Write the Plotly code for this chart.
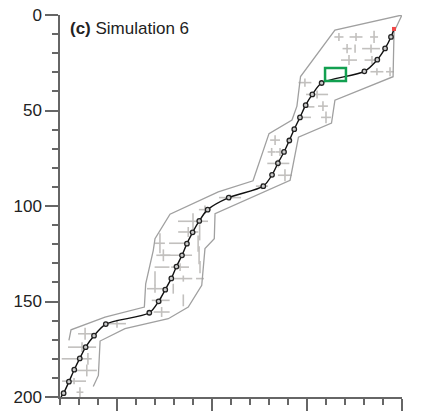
import plotly.graph_objects as go

# Path (black line with markers)
path_x = [-29.5, -28.1, -25.3, -22.5, -19.6, -16.5, -12.1, -5.9, 17.0, 21.9, 25.4, 28.6, 31.3, 34.2,
          36.8, 39.8, 43.3, 47.7, 58.8, 77.0, 81.6, 84.7, 87.9, 90.7, 93.3, 96.3, 99.3, 102.8,
          107.7, 130.2, 137.0, 141.1, 144.2, 145.8]
path_y = [200.0, 198.0, 192.0, 185.7, 179.8, 173.9, 167.9, 161.8, 155.9, 149.9, 143.8, 137.9, 131.7,
          125.8, 119.7, 113.8, 107.8, 101.9, 95.6, 89.6, 83.7, 77.6, 71.7, 65.7, 59.8, 53.6, 47.2,
          41.6, 35.6, 29.5, 23.4, 17.5, 11.5, 7.3]
marker_x = path_x[1:-1]
marker_y = path_y[1:-1]

# Envelope outline (left edge bottom->top, then right edge top->bottom)
env_x = [-25.3, -24.2, -6.3, 14.4, 15.1, 19.1, 20.0, 27.9, 53.3, 71.6, 80.0, 92.1, 94.7, 96.6,
         114.7, 150.0,
         145.8, 145.3, 114.7, 112.9, 95.5, 91.1, 51.6, 51.2, 46.3, 44.6, 37.5, 27.0, 4.2, -8.9,
         -9.8, -12.5]
env_y = [170.4, 164.8, 158.2, 152.9, 140.7, 123.2, 117.1, 104.3, 92.6, 86.8, 62.1, 55.0, 47.7, 32.2,
         7.9, 0.0,
         8.8, 32.3, 44.6, 56.6, 64.0, 86.5, 104.0, 117.1, 122.3, 141.5, 152.9, 159.0, 164.2, 170.7,
         188.7, 194.5]

# Crosses (centre and half-extents)
cross_x = [116.8, 125.8, 135.3, 121.1, 133.7, 125.3, 122.1, 134.2, 136.8, 143.7, 98.9, 105.3,
           108.4, 100.9, 110.0, 99.5, 83.2, 81.4, 85.8, 84.9, 88.4, 76.3, 59.5, 46.3, 40.0,
           37.5, 43.5, 22.6, 32.1, 42.7, 31.1, 24.4, 43.2, 23.7, 33.2, 43.7, 20.0, 34.9, 43.7,
           20.0, 29.6, 23.0, 34.9, 23.5, 0.0, -16.8, -18.4, -21.2, -15.3, -15.9, -22.6, -19.5]
cross_y = [11.5, 11.5, 11.5, 17.6, 17.6, 17.6, 23.6, 23.6, 29.7, 29.7, 35.4, 41.6,
           47.7, 48.1, 53.6, 53.6, 65.5, 71.7, 71.7, 77.7, 83.9, 89.6, 95.6, 101.9, 108.0,
           113.6, 113.8, 119.5, 119.5, 119.7, 125.8, 125.8, 125.8, 132.0, 132.0, 132.0, 137.9, 138.0, 138.0,
           143.3, 143.3, 149.4, 149.4, 155.5, 161.6, 166.9, 173.9, 180.0, 180.0, 186.1, 191.7, 197.5]
cross_ex = [2.4, 3.4, 2.1, 2.4, 4.7, 0.0, 4.2, 3.9, 3.4, 2.1, 3.4, 5.8,
            2.6, 3.0, 2.6, 2.6, 2.6, 2.1, 2.1, 5.8, 3.7, 3.2, 5.8, 3.2, 7.9,
            5.3, 0.0, 2.6, 4.7, 0.0, 8.4, 3.7, 0.0, 3.9, 4.7, 0.0, 0.0, 4.7, 2.1,
            4.2, 0.0, 4.7, 0.0, 4.2, 4.7, 3.7, 7.4, 7.9, 0.0, 5.3, 6.3, 1.8]
cross_ey = [2.1, 2.1, 3.2, 2.4, 2.1, 2.1, 2.6, 2.1, 1.8, 2.4, 2.1, 2.1,
            2.6, 0.0, 3.1, 0.0, 2.6, 2.1, 2.1, 2.1, 3.1, 1.6, 1.6, 2.1, 4.2,
            2.6, 4.2, 5.2, 0.0, 4.2, 0.0, 3.1, 4.7, 0.0, 2.0, 3.2, 3.7, 1.6, 0.0,
            2.1, 2.6, 1.6, 3.1, 2.6, 2.1, 3.1, 2.6, 0.0, 3.1, 3.1, 1.6, 2.6]

# Highlight box and start point
box_x = [109.5, 120.5]
box_y = [27.8, 34.6]
red_x = [145.8]
red_y = [7.3]

y_ticks = [0, 50, 100, 150, 200]

fig = go.Figure()

fig.add_trace(go.Scatter(
    x=cross_x, y=cross_y, mode="markers",
    marker=dict(size=1, color="rgba(0,0,0,0)"),
    error_x=dict(type="data", array=cross_ex, symmetric=True, color="#c2c0be", thickness=1.6, width=0),
    error_y=dict(type="data", array=cross_ey, symmetric=True, color="#c2c0be", thickness=1.6, width=0),
    hoverinfo="skip", showlegend=False))

fig.add_trace(go.Scatter(
    x=env_x, y=env_y, mode="lines",
    line=dict(color="#a0a0a0", width=1.3), showlegend=False))

fig.add_trace(go.Scatter(
    x=path_x, y=path_y, mode="lines",
    line=dict(color="#111111", width=1.4, shape="spline", smoothing=0.8), showlegend=False))

fig.add_trace(go.Scatter(
    x=marker_x, y=marker_y, mode="markers",
    marker=dict(symbol="circle", size=4.5, color="#cccccc", line=dict(color="#222222", width=1.3)),
    showlegend=False))

fig.add_trace(go.Scatter(
    x=red_x, y=red_y, mode="markers",
    marker=dict(symbol="square", size=4, color="#f04848"), showlegend=False))

fig.add_shape(type="rect", xref="x", yref="y",
              x0=box_x[0], x1=box_x[1], y0=box_y[0], y1=box_y[1],
              line=dict(color="#12a050", width=2.5))

fig.add_annotation(text="<b>(c)</b> Simulation 6", xref="paper", yref="paper",
                   x=0.022, y=0.965, xanchor="left", yanchor="middle", showarrow=False,
                   font=dict(family="Liberation Sans, Arial", size=17, color="#222222"))

axis_common = dict(showgrid=False, zeroline=False, showline=True, linecolor="#666666",
                   linewidth=1.5, ticks="outside", tickcolor="#666666", tickwidth=1.5, ticklen=13,
                   automargin=False)

fig.update_xaxes(range=[-30, 150], tick0=0, dtick=50, showticklabels=False,
                 minor=dict(ticks="outside", dtick=10, tick0=0, ticklen=6, tickcolor="#666666", tickwidth=1.5),
                 **axis_common)
fig.update_yaxes(range=[200, 0], tickvals=y_ticks, ticktext=[str(v) for v in y_ticks],
                 tickfont=dict(family="Liberation Sans, Arial", size=17, color="#222222"),
                 minor=dict(ticks="outside", dtick=10, tick0=0, ticklen=6, tickcolor="#666666", tickwidth=1.5),
                 **axis_common)

fig.update_layout(width=424, height=411, margin=dict(l=60, r=22, t=15, b=14),
                  plot_bgcolor="white", paper_bgcolor="white", showlegend=False)

# remove the default 8px page margin so the figure sits at the window's top-left corner
fig.write_html("out.html", config={"displayModeBar": False},
               post_script="document.body.style.margin='0px';")
